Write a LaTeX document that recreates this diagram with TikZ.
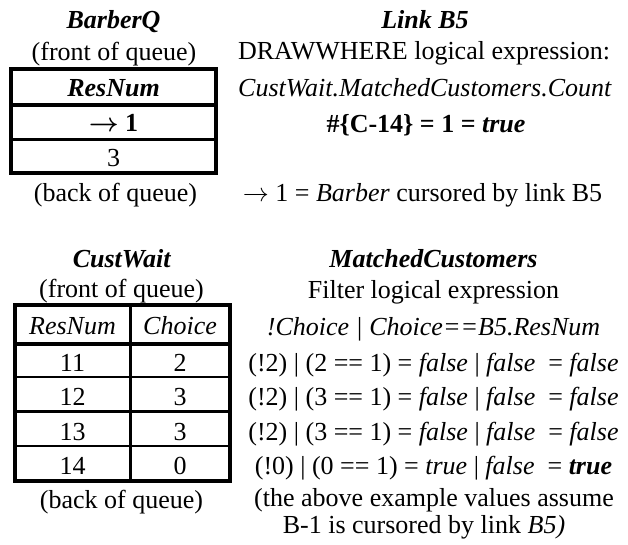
\documentclass[tikz,border=0pt]{standalone}
\usepackage{fix-cm}
\usepackage{fontspec}
\setmainfont{Liberation Serif}
\begin{document}
\begin{tikzpicture}[x=1pt,y=-1pt,
    txt/.style={font=\fontsize{26}{30}\selectfont, inner sep=0pt, anchor=base},
    frame/.style={line width=4pt},
    rowline/.style={line width=2.5pt},
    colline/.style={line width=3pt}]
      \useasboundingbox (0,0) rectangle (628,545);
      % BarberQ queue
      \node[txt] at (113.5,29) (bq) {\textbf{\textit{BarberQ}}};
      \node[txt] at (114,61) (bqfront) {(front of queue)};
      \node[txt] at (113.5,96.5) (bqhead) {\textbf{\textit{ResNum}}};
      \node[txt] at (113.5,132) (bqone) {\textbf{{\boldmath$\rightarrow$} 1}};
      \node[txt] at (113.5,166.5) (bqthree) {3};
      \node[txt] at (115.5,202) (bqback) {(back of queue)};
      \draw[frame] (11,69) rectangle (216,173.5);
      \draw[frame] (11,105) -- (216,105);
      \draw[rowline] (11,139.5) -- (216,139.5);
      % link B5
      \node[txt] at (425,28.5) (lk) {\textbf{\textit{Link B5}}};
      \node[txt] at (424,60) (lkexpr) {DRAWWHERE logical expression:};
      \node[txt] at (425,97) (lkcount) {\textit{CustWait.MatchedCustomers.Count}};
      \node[txt] at (426,132.5) (lkres) {\textbf{\#\{C-14\} = 1 = \textit{true}}};
      \node[txt] at (422.5,202) (lknote) {$\rightarrow$ 1 = \textit{Barber} cursored by link B5};
      % CustWait queue
      \node[txt] at (122,267.5) (cw) {\textbf{\textit{CustWait}}};
      \node[txt] at (121.5,297) (cwfront) {(front of queue)};
      \node[txt] at (72.5,334) (cwres) {\textit{ResNum}};
      \node[txt] at (180,334) (cwch) {\textit{Choice}};
      \foreach \r/\c [count=\i] in {11/2,12/3,13/3,14/0} {
        \node[txt] at (72.5,336.5+34.5*\i) (res\i) {\r};
        \node[txt] at (180,336.5+34.5*\i) (ch\i) {\c};
      }
      \node[txt] at (121.5,508) (cwback) {(back of queue)};
      \draw[frame] (15,305) rectangle (229.5,480.5);
      \draw[frame] (15,343.5) -- (229.5,343.5);
      \foreach \y in {377,411.5,446}
        \draw[rowline] (15,\y) -- (229.5,\y);
      \draw[colline] (130,305) -- (130,480.5);
      % MatchedCustomers filter
      \node[txt] at (433.5,267.5) (mc) {\textbf{\textit{MatchedCustomers}}};
      \node[txt] at (433.5,298) (mcexpr) {Filter logical expression};
      \node[txt] at (433.5,335) (mcfilt) {\textit{!Choice | Choice==B5.ResNum}};
      \node[txt] at (433.5,371) (ev1) {(!2) | (2 == 1) = \textit{false} | \textit{false}\ \ = \textit{false}};
      \node[txt] at (433.5,405.5) (ev2) {(!2) | (3 == 1) = \textit{false} | \textit{false}\ \ = \textit{false}};
      \node[txt] at (433.5,440) (ev3) {(!2) | (3 == 1) = \textit{false} | \textit{false}\ \ = \textit{false}};
      \node[txt] at (433.5,474.5) (ev4) {(!0) | (0 == 1) = \textit{true} | \textit{false}\ \ = \textbf{\textit{true}}};
      \node[txt] at (434,506) (mcnote) {(the above example values assume};
      \node[txt] at (424,533) (mcnote2) {B-1 is cursored by link \textit{B5)}};
\end{tikzpicture}
\end{document}
